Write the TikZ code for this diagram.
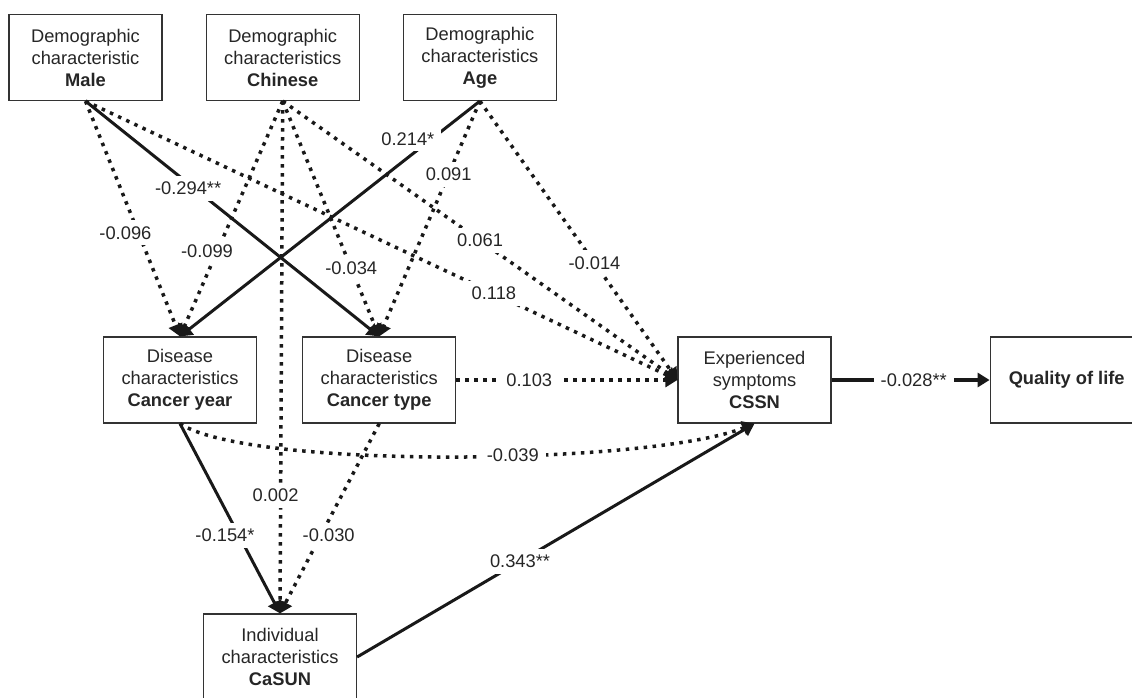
\documentclass[tikz,border=0pt]{standalone}
\usepackage{fontspec}
\setmainfont{Liberation Sans}
\usetikzlibrary{arrows.meta,positioning}

\begin{document}
\begin{tikzpicture}[
    x=1pt, y=-1pt,
    node distance=44pt and 43pt,
    every node/.style={font=\fontsize{18.3}{22}\selectfont, text=black!85},
    box/.style={draw=black!80, line width=1.2pt, fill=white, align=center,
                minimum width=153pt, minimum height=86pt, inner sep=2pt},
    lbl/.style={fill=white, inner xsep=7pt, inner ysep=6pt},
    sig/.style={-{Triangle[length=12pt,width=14pt]}, line width=3pt, black!90},
    nsig/.style={-{Triangle[length=12pt,width=14pt]}, line width=3.5pt,
                 dash pattern=on 3.5pt off 5.5pt, black!90}
  ]
    \useasboundingbox (0,0) rectangle (1132,697);
    % demographic characteristics
    \node[box] (male) at (85.5,57.5) {Demographic\\characteristic\\\textbf{Male}};
    \node[box, right=of male] (chinese) {Demographic\\characteristics\\\textbf{Chinese}};
    \node[box, right=of chinese] (age) {Demographic\\characteristics\\\textbf{Age}};
    % disease, individual and outcome
    \node[box] (cyear) at (180,380) {Disease\\characteristics\\\textbf{Cancer year}};
    \node[box, right=45pt of cyear] (ctype) {Disease\\characteristics\\\textbf{Cancer type}};
    \node[box] (casun) at (280,657) {Individual\\characteristics\\\textbf{CaSUN}};
    \node[box] (cssn) at (754.5,380) {Experienced\\symptoms\\\textbf{CSSN}};
    \node[box, right=158pt of cssn] (qol) {\textbf{Quality of life}};

    \draw[nsig] (male.south) -- node[lbl, pos=0.56, xshift=-13pt] {-0.096} (cyear.north);
    \draw[sig] (male.south) -- node[lbl, pos=0.37, xshift=-6pt] {-0.294**} (ctype.north);
    \draw[nsig] (male.south) -- node[lbl, pos=0.69] {0.118} (cssn.west);
    \draw[nsig] (chinese.south) -- node[lbl, pos=0.64, xshift=-10pt] {-0.099} (cyear.north);
    \draw[nsig] (chinese.south) -- node[lbl, pos=0.71] {-0.034} (ctype.north);
    \draw[nsig] (chinese.south) -- node[lbl, pos=0.77, xshift=-5pt] {0.002} (casun.north);
    \draw[nsig] (chinese.south) -- node[lbl, pos=0.50] {0.061} (cssn.west);
    \draw[sig] (age.south) -- node[lbl, pos=0.16, xshift=-24pt] {0.214*} (cyear.north);
    \draw[nsig] (age.south) -- node[lbl, pos=0.31] {0.091} (ctype.north);
    \draw[nsig] (age.south) -- node[lbl, pos=0.58] {-0.014} (cssn.west);
    \draw[nsig] (ctype.east) -- node[lbl, pos=0.33] {0.103} (cssn.west);
    \draw[nsig] (cyear.south) .. controls (250,470) and (650,465) .. (cssn.south)
      node[lbl, pos=0.58] {-0.039};
    \draw[sig] (cyear.south) -- node[lbl, pos=0.59, xshift=-14pt] {-0.154*} (casun.north);
    \draw[nsig] (ctype.south) -- node[lbl, pos=0.59, xshift=8pt] {-0.030} (casun.north);
    \draw[sig] (casun.east) -- node[lbl, pos=0.41] {0.343**} (cssn.south);
    \draw[sig, line width=4pt] (cssn.east) -- node[lbl, pos=0.52] {-0.028**} (qol.west);
  \end{tikzpicture}
\end{document}
